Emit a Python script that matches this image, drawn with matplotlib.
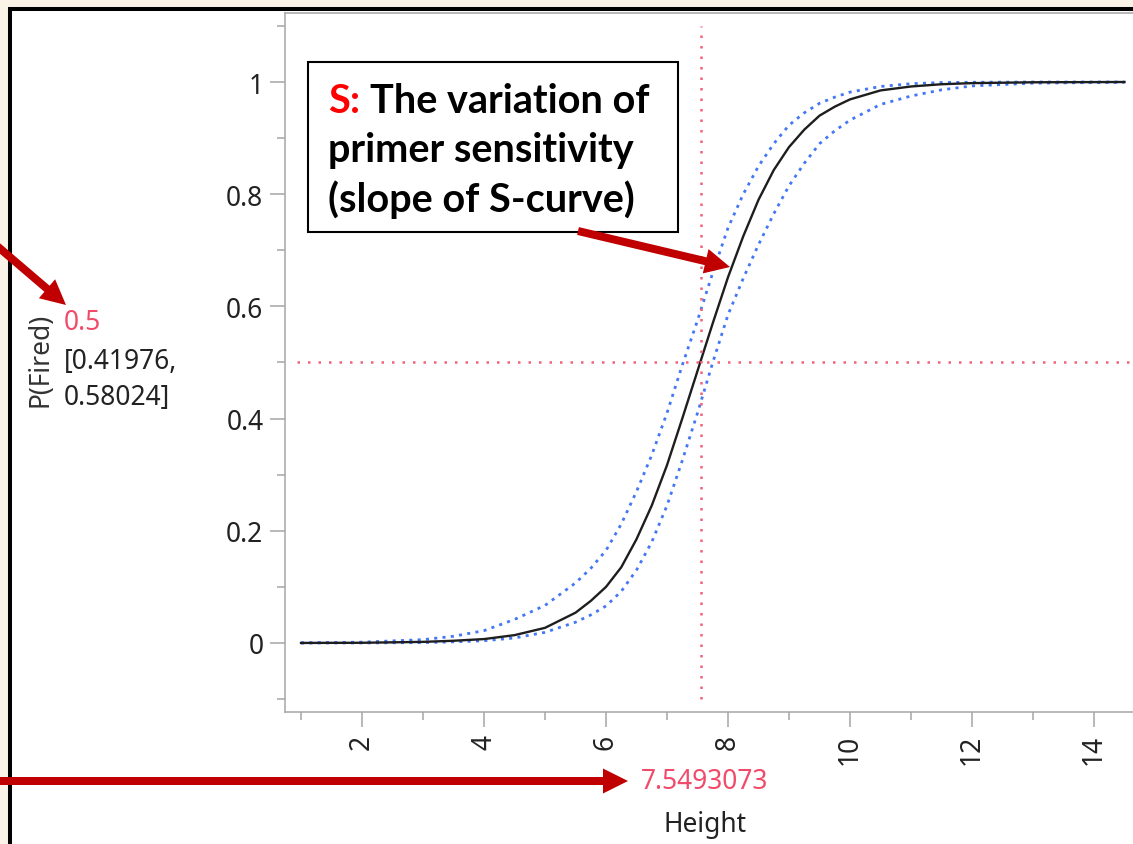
import matplotlib as mpl
mpl.use('Agg')
import matplotlib.pyplot as plt
import numpy as np
from matplotlib.patches import Rectangle, FancyArrow
from matplotlib.transforms import Affine2D

height = [1.0, 2.0, 3.0, 3.5, 4.0, 4.5, 5.0, 5.5, 5.75, 6.0, 6.25, 6.5, 6.75, 7.0, 7.25,
          7.5, 7.75, 8.0, 8.25, 8.5, 8.75, 9.0, 9.25, 9.5, 9.75, 10.0, 10.5, 11.0, 11.5,
          12.0, 13.0, 14.5]
p_fired = [0.0001, 0.0004, 0.002, 0.004, 0.007, 0.014, 0.027, 0.054, 0.075, 0.10, 0.135,
           0.185, 0.245, 0.317, 0.40, 0.485, 0.57, 0.652, 0.725, 0.79, 0.843, 0.884,
           0.915, 0.94, 0.956, 0.969, 0.985, 0.992, 0.996, 0.998, 0.9995, 1.0]
p_upper = [0.0003, 0.0015, 0.006, 0.012, 0.022, 0.042, 0.067, 0.107, 0.133, 0.165, 0.212,
           0.27, 0.335, 0.41, 0.495, 0.575, 0.66, 0.74, 0.80, 0.85, 0.89, 0.923, 0.945,
           0.962, 0.973, 0.982, 0.992, 0.997, 0.999, 0.9995, 1.0, 1.0]
p_lower = [0.0, 0.0001, 0.0007, 0.002, 0.004, 0.009, 0.019, 0.037, 0.05, 0.066, 0.092,
           0.13, 0.18, 0.245, 0.325, 0.41, 0.50, 0.585, 0.65, 0.71, 0.765, 0.815, 0.855,
           0.89, 0.913, 0.932, 0.96, 0.975, 0.986, 0.993, 0.998, 0.9995]

x_cross = 7.5493073
y_cross = 0.5
ci_text = ['[0.41976,', '0.58024]']
box_lines = ['The variation of', 'primer sensitivity', '(slope of S-curve)']

W, H = 1133, 845
plt.rcParams['font.family'] = ['Noto Sans', 'DejaVu Sans']

fig = plt.figure(figsize=(W / 100, H / 100), dpi=100, facecolor='#FBF3E8')
# pixel coordinates, origin top-left
px = Affine2D().scale(1 / W, -1 / H).translate(0, 1) + fig.transFigure

frame = Rectangle((10, 10), 1200, 900, facecolor='white', edgecolor='black',
                  linewidth=2.9, transform=px, zorder=-1)
fig.add_artist(frame)

# plot runs past the right edge of the screenshot
ax_right = 1160
ax = fig.add_axes([285 / W, 1 - 713 / H, (ax_right - 285) / W, (713 - 14) / H])
ax.set_facecolor('white')

ax.plot(height, p_upper, color='#4477F5', linewidth=2.0, dashes=(1.1, 1.9))
ax.plot(height, p_lower, color='#4477F5', linewidth=2.0, dashes=(1.1, 1.9))
ax.plot(height, p_fired, color='#1E1E1E', linewidth=1.7)

ax.plot([x_cross, x_cross], [-0.1, 1.1], color='#F2637A', linewidth=1.8, dashes=(1.0, 3.2))
ax.plot([0.94, 16], [y_cross, y_cross], color='#F2637A', linewidth=1.8, dashes=(1.0, 3.2))

ax.set_xticks(np.arange(2, 15, 2))
ax.set_xticks(np.arange(1, 16, 2), minor=True)
ax.set_yticks([0, 0.2, 0.4, 0.6, 0.8, 1.0])
ax.set_yticklabels(['0', '0.2', '0.4', '0.6', '0.8', '1'])
ax.set_yticks(np.arange(-0.1, 1.15, 0.2), minor=True)
# limits after ticks, otherwise set_xticks widens the view
ax.set_xlim(2 - 77 / 61, 2 + (ax_right - 362) / 61)
ax.set_ylim(-0.123, 1.123)
ax.tick_params(axis='x', which='major', labelrotation=90)

ax.tick_params(which='major', length=10.5, width=1.1, color='#A6A6A6',
               labelsize=19, labelcolor='#222222', pad=5)
ax.tick_params(which='minor', length=5.5, width=1.1, color='#A6A6A6')

for side in ['top', 'left', 'bottom']:
    ax.spines[side].set_color('#A6A6A6')
    ax.spines[side].set_linewidth(1.1)
ax.spines['right'].set_visible(False)

# labels outside the plot
fig.text(40, 360, 'P(Fired)', transform=px, rotation=90, ha='center', va='center',
         fontsize=19, color='#333333')
fig.text(64, 323, '0.5', transform=px, ha='left', va='center', fontsize=19, color='#F04B6A')
fig.text(64, 362, ci_text[0], transform=px, ha='left', va='center', fontsize=19, color='#222222')
fig.text(64, 398, ci_text[1], transform=px, ha='left', va='center', fontsize=19, color='#222222')
fig.text(705, 782, f'{x_cross:.7f}', transform=px, ha='center', va='center',
         fontsize=19, color='#F04B6A')
fig.text(705, 825, 'Height', transform=px, ha='center', va='center', fontsize=19,
         color='#222222')

# annotation box
box = Rectangle((308, 63), 370, 170, facecolor='white', edgecolor='black',
                linewidth=1.5, transform=px, zorder=5)
fig.add_artist(box)
bfont = dict(family=['Lato', 'DejaVu Sans'], fontweight='bold', fontsize=28.5)
s_txt = fig.text(328, 113, 'S:', transform=px, ha='left', va='baseline', color='#FF0000',
                 zorder=6, **bfont)
fig.canvas.draw()
bb = s_txt.get_window_extent()
fig.text(bb.x1 + 10, 113, box_lines[0], transform=px, ha='left', va='baseline',
         color='black', zorder=6, **bfont)
fig.text(328, 162, box_lines[1], transform=px, ha='left', va='baseline',
         color='black', zorder=6, **bfont)
fig.text(328, 212, box_lines[2], transform=px, ha='left', va='baseline',
         color='black', zorder=6, **bfont)

# red arrows
arrows = [((578, 232), (730, 268)), ((-10, 241), (66, 306)), ((-10, 782), (628, 782))]
for (x0, y0), (x1, y1) in arrows:
    arr = FancyArrow(x0, y0, x1 - x0, y1 - y0, width=8, head_width=25, head_length=25,
                     length_includes_head=True, color='#C00000', linewidth=0,
                     transform=px, zorder=7)
    fig.add_artist(arr)

fig.savefig('out.png', dpi=100, facecolor=fig.get_facecolor())
